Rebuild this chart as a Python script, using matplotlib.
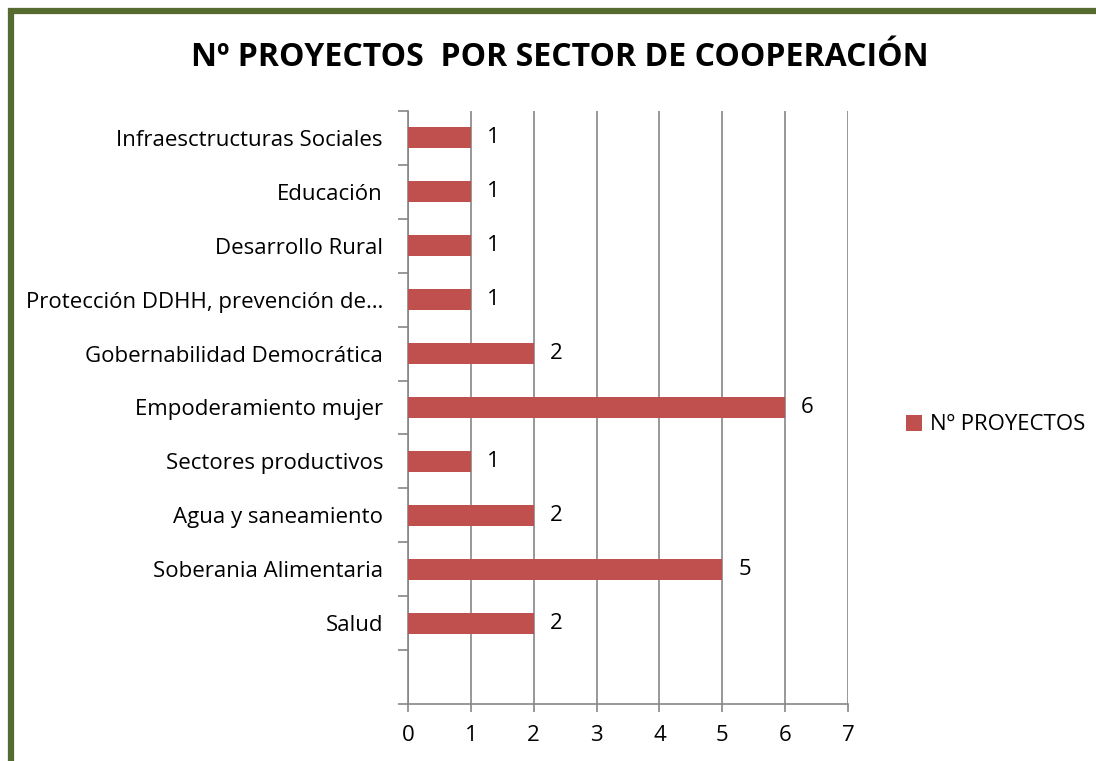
import matplotlib.pyplot as plt
from matplotlib.patches import Rectangle

# categories bottom to top (first slot is empty in the original)
sectores = ['', 'Salud', 'Soberania Alimentaria', 'Agua y saneamiento',
            'Sectores productivos', 'Empoderamiento mujer',
            'Gobernabilidad Democrática', 'Protección DDHH, prevención de…',
            'Desarrollo Rural', 'Educación', 'Infraesctructuras Sociales']
proyectos = [0, 2, 5, 2, 1, 6, 2, 1, 1, 1, 1]
xticks = [0, 1, 2, 3, 4, 5, 6, 7]

bar_color = '#C0504D'
grid_color = '#868686'
plt.rcParams['font.family'] = ['Open Sans', 'DejaVu Sans']

fig = plt.figure(figsize=(10.96, 7.61), dpi=100)
ax = fig.add_axes([408 / 1096, 1 - 704 / 761, 440 / 1096, 593 / 761])

pos = list(range(len(sectores)))
bars = ax.barh(pos[1:], proyectos[1:], height=0.39, color=bar_color,
               zorder=3, label='Nº PROYECTOS')
for p, v in zip(pos[1:], proyectos[1:]):
    ax.annotate(str(v), (v, p), xytext=(16, 0), textcoords='offset pixels',
                va='center', ha='left', fontsize=16)

ax.set_xlim(0, 7)
ax.set_ylim(-0.5, len(sectores) - 0.5)
ax.set_xticks(xticks)
ax.set_xticklabels([str(t) for t in xticks], fontsize=16)
ax.set_yticks(pos)
ax.set_yticklabels(sectores, fontsize=16)
ax.set_yticks([p - 0.5 for p in pos] + [len(sectores) - 0.5], minor=True)
ax.tick_params(axis='y', which='major', length=0, pad=18)
ax.tick_params(axis='y', which='minor', length=7, color=grid_color, width=1.2)
ax.tick_params(axis='x', length=6, color=grid_color, width=1.2, pad=9)
ax.xaxis.grid(True, color=grid_color, linewidth=1.2, zorder=0)
for s in ['top', 'right']:
    ax.spines[s].set_visible(False)
for s in ['left', 'bottom']:
    ax.spines[s].set_color(grid_color)
    ax.spines[s].set_linewidth(1.2)

fig.text(560 / 1096, 1 - 57 / 761, 'Nº PROYECTOS  POR SECTOR DE COOPERACIÓN',
         ha='center', va='center', fontsize=23, fontweight='bold')

fig.legend(handles=[bars], loc='center left', bbox_to_anchor=(886 / 1096, 1 - 425 / 761),
           frameon=False, fontsize=16, handlelength=0.7, handleheight=0.7,
           handletextpad=0.4)

# olive frame around the chart
fig.patches.append(Rectangle((11 / 1096, -0.1), 1.2, 1 - 11 / 761 + 0.1,
                             transform=fig.transFigure, fill=False,
                             edgecolor='#556B2F', linewidth=4.5))

fig.savefig('out.png', dpi=100)
